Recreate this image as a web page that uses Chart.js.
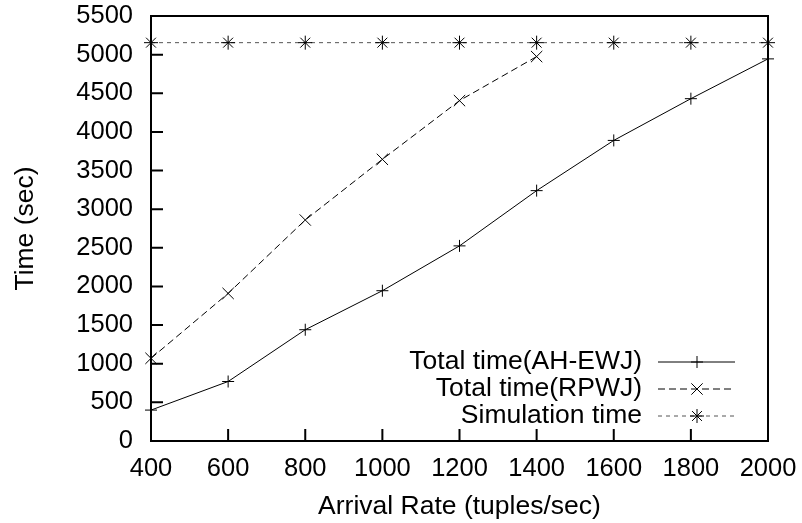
<!DOCTYPE html>
<html>
<head>
<meta charset="utf-8">
<script src="https://cdn.jsdelivr.net/npm/chart.js@4.4.0/dist/chart.umd.min.js"></script>
<style>
  html, body { margin: 0; padding: 0; background: #fff; }
  #wrap { width: 802px; height: 523px; }
</style>
</head>
<body>
<div id="wrap"><canvas id="chart" width="802" height="523"></canvas></div>
<script>
const arrivalRates = [400, 600, 800, 1000, 1200, 1400, 1600, 1800, 2000];
const ahEwjTime = [400, 770, 1440, 1945, 2525, 3240, 3890, 4430, 4945];
const rpwjRates = [400, 600, 800, 1000, 1200, 1400];
const rpwjTime = [1070, 1910, 2860, 3645, 4405, 4975];
const simulationTime = [5155, 5155, 5155, 5155, 5155, 5155, 5155, 5155, 5155];
const seriesNames = ['Total time(AH-EWJ)', 'Total time(RPWJ)', 'Simulation time'];

const FONT = 'Liberation Sans, Arial, sans-serif';

function toPoints(xs, ys) {
    return xs.map((x, i) => ({ x: x, y: ys[i] }));
}

// gnuplot style frame, inward ticks and key
const gnuplotFrame = {
    id: 'gnuplotFrame',
    afterDraw(chart) {
        const ctx = chart.ctx;
        const area = chart.chartArea;
        const xs = chart.scales.x;
        const ys = chart.scales.y;
        ctx.save();
        ctx.strokeStyle = '#000';
        ctx.lineWidth = 2;
        ctx.strokeRect(area.left, area.top, area.right - area.left, area.bottom - area.top);
        ctx.beginPath();
        xs.ticks.forEach(t => {
            const px = xs.getPixelForValue(t.value);
            ctx.moveTo(px, area.bottom);
            ctx.lineTo(px, area.bottom - 12);
        });
        ys.ticks.forEach(t => {
            const py = ys.getPixelForValue(t.value);
            ctx.moveTo(area.left, py);
            ctx.lineTo(area.left + 12, py);
        });
        ctx.stroke();

        // key, bottom right
        const textRight = 642;
        const lineL = 658, lineR = 735, mid = 697;
        const rowY = [362, 389, 416];
        ctx.font = '26.5px ' + FONT;
        ctx.textAlign = 'right';
        ctx.textBaseline = 'middle';
        ctx.fillStyle = '#000';
        chart.data.datasets.forEach((ds, i) => {
            const y = rowY[i];
            ctx.fillText(ds.label, textRight, y);
            ctx.beginPath();
            ctx.lineWidth = 1;
            ctx.strokeStyle = ds.borderColor;
            ctx.setLineDash(ds.borderDash || []);
            ctx.moveTo(lineL, y);
            ctx.lineTo(lineR, y);
            ctx.stroke();
            ctx.setLineDash([]);
            ctx.strokeStyle = '#000';
            Chart.helpers.drawPoint(ctx, {
                pointStyle: ds.pointStyle,
                radius: ds.pointRadius,
                borderWidth: 1
            }, mid, y);
        });
        ctx.restore();
    }
};

new Chart(document.getElementById('chart'), {
    type: 'line',
    data: {
        datasets: [
            {
                label: seriesNames[0],
                data: toPoints(arrivalRates, ahEwjTime),
                borderColor: '#000',
                borderWidth: 1,
                pointStyle: 'cross',
                pointRadius: 6,
                pointBorderColor: '#000',
                pointBorderWidth: 1,
                clip: false
            },
            {
                label: seriesNames[1],
                data: toPoints(rpwjRates, rpwjTime),
                borderColor: '#000',
                borderWidth: 1,
                borderDash: [7, 4],
                pointStyle: 'crossRot',
                pointRadius: 8,
                pointBorderColor: '#000',
                pointBorderWidth: 1,
                clip: false
            },
            {
                label: seriesNames[2],
                data: toPoints(arrivalRates, simulationTime),
                borderColor: '#555',
                borderWidth: 1,
                borderDash: [4, 4],
                pointStyle: 'star',
                pointRadius: 7,
                pointBorderColor: '#000',
                pointBorderWidth: 1,
                clip: false
            }
        ]
    },
    options: {
        responsive: false,
        animation: false,
        layout: { padding: { left: 0, top: 16, right: 34, bottom: 0 } },
        plugins: {
            legend: { display: false },
            tooltip: { enabled: false }
        },
        scales: {
            x: {
                type: 'linear',
                min: 400,
                max: 2000,
                ticks: {
                    stepSize: 200,
                    color: '#000',
                    padding: 13,
                    maxRotation: 0,
                    callback: v => String(v),
                    font: { family: FONT, size: 25.5 }
                },
                grid: { display: false, drawTicks: false },
                border: { display: false },
                title: {
                    display: true,
                    text: 'Arrival Rate (tuples/sec)',
                    color: '#000',
                    padding: { top: 9, bottom: 0 },
                    font: { family: FONT, size: 26.5 }
                },
                afterFit(scale) {
                    scale.height = 82;
                    scale.paddingLeft = 0;
                    scale.paddingRight = 0;
                }
            },
            y: {
                min: 0,
                max: 5500,
                ticks: {
                    stepSize: 500,
                    color: '#000',
                    padding: 18,
                    callback: v => String(v),
                    font: { family: FONT, size: 25.5 }
                },
                grid: { display: false, drawTicks: false },
                border: { display: false },
                title: {
                    display: true,
                    text: 'Time (sec)',
                    color: '#000',
                    padding: { top: 10, bottom: 0 },
                    font: { family: FONT, size: 26.5 }
                },
                afterFit(scale) {
                    scale.width = 151;
                    scale.paddingTop = 0;
                    scale.paddingBottom = 0;
                }
            }
        }
    },
    plugins: [gnuplotFrame]
});
</script>
</body>
</html>
